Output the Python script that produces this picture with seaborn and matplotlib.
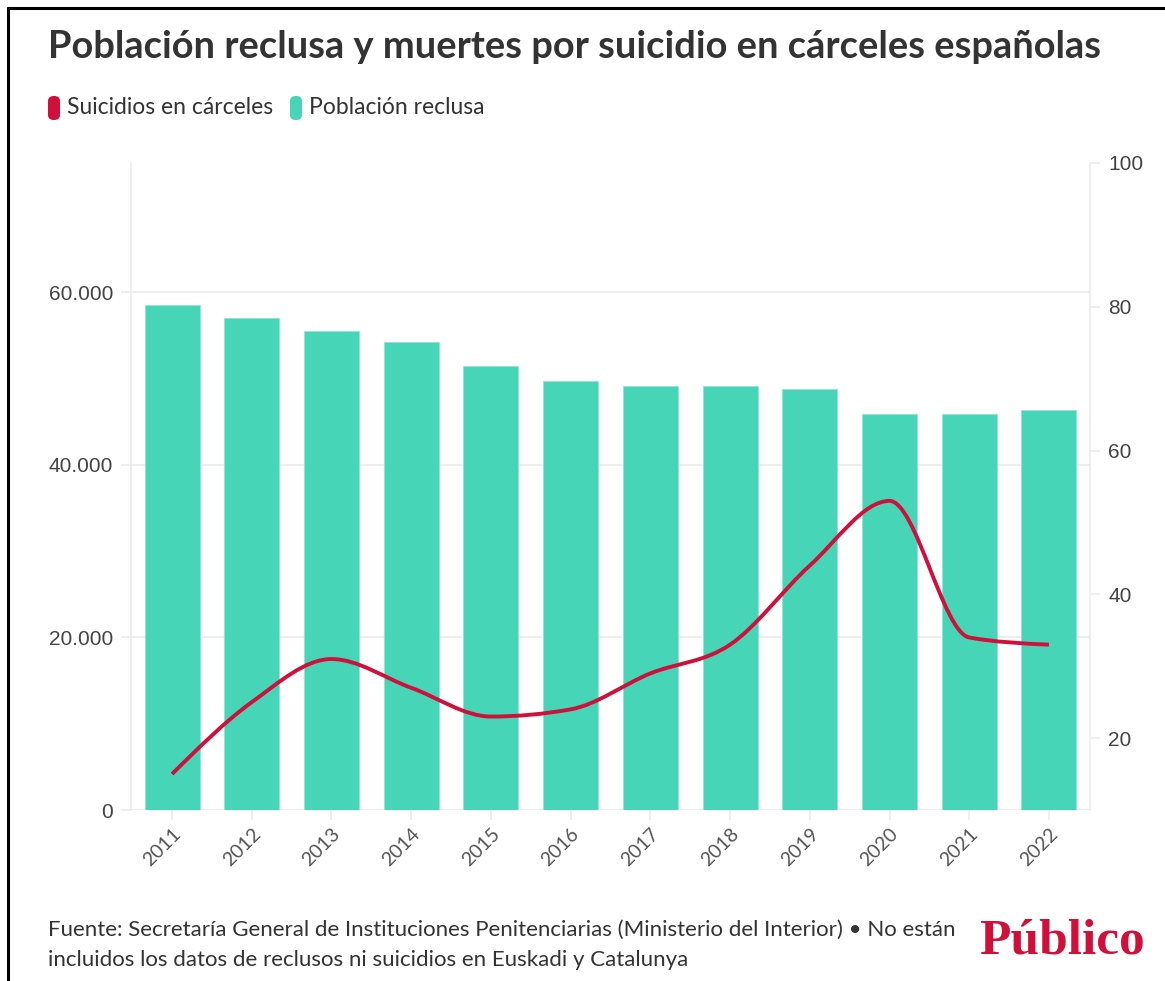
import numpy as np
import pandas as pd
import seaborn as sns
import matplotlib as mpl
from matplotlib import pyplot as plt
from matplotlib.path import Path
from matplotlib.patches import PathPatch, FancyBboxPatch
from matplotlib.lines import Line2D

years = ["2011", "2012", "2013", "2014", "2015", "2016",
         "2017", "2018", "2019", "2020", "2021", "2022"]
poblacion = [58500, 57000, 55500, 54200, 51450, 49700,
             49150, 49150, 48800, 45900, 45900, 46400]
suicidios = [15, 25, 31, 27, 23, 24, 29, 33, 44, 53, 34, 33]

left_ticks = [0, 20000, 40000, 60000]
right_ticks = [20, 40, 60, 80, 100]

TEAL = "#46D5B7"
RED = "#D0103A"
GRID = "#EBEBEB"
TXT = "#333333"


def monotone_path(xs, ys):
    # d3 curveMonotoneX as cubic bezier segments
    xs = np.asarray(xs, float)
    ys = np.asarray(ys, float)
    n = len(xs)
    h = np.diff(xs)
    s = np.diff(ys) / h
    t = np.zeros(n)
    for i in range(1, n - 1):
        p = (s[i - 1] * h[i] + s[i] * h[i - 1]) / (h[i - 1] + h[i])
        t[i] = (np.sign(s[i - 1]) + np.sign(s[i])) * min(
            abs(s[i - 1]), abs(s[i]), 0.5 * abs(p))
    t[0] = (3 * s[0] - t[1]) / 2
    t[-1] = (3 * s[-1] - t[-2]) / 2
    verts = [(xs[0], ys[0])]
    codes = [Path.MOVETO]
    for i in range(n - 1):
        dx = h[i] / 3
        verts += [(xs[i] + dx, ys[i] + dx * t[i]),
                  (xs[i + 1] - dx, ys[i + 1] - dx * t[i + 1]),
                  (xs[i + 1], ys[i + 1])]
        codes += [Path.CURVE4] * 3
    return Path(verts, codes)


df = pd.DataFrame({"year": years, "poblacion": poblacion, "suicidios": suicidios})

sns.set_theme(style="white")
plt.rcParams["font.family"] = ["Lato", "DejaVu Sans"]

fig = plt.figure(figsize=(11.65, 9.81), dpi=100)
ax = fig.add_axes([131 / 1165, 1 - 810 / 981, (1090 - 131) / 1165, (810 - 163) / 981])

sns.barplot(data=df, x="year", y="poblacion", color=TEAL, saturation=1,
            width=0.69, edgecolor="#8FE6D3", linewidth=0.6, ax=ax, zorder=2)
ax.set_xlim(-0.515, len(years) - 0.485)
ax.set_ylim(0, 75000)
ax.set_yticks(left_ticks)
ax.set_yticklabels([f"{v:,.0f}".replace(",", ".") for v in left_ticks],
                   fontfamily="Liberation Sans", fontsize=15, color="#444444")
ax.set_xlabel("")
ax.set_ylabel("")
ax.grid(axis="y", color=GRID, linewidth=1.2, zorder=0)
ax.set_axisbelow(True)
for side in ["top", "right", "bottom"]:
    ax.spines[side].set_visible(False)
ax.spines["left"].set_color(GRID)
ax.spines["left"].set_linewidth(1.2)
ax.tick_params(axis="y", length=7, width=1.2, color=GRID, pad=6, left=True)
ax.tick_params(axis="x", length=7, width=1.2, color=GRID, bottom=True,
               labelsize=14, labelcolor="#555555", pad=4)
plt.setp(ax.get_xticklabels(), rotation=45, ha="right", rotation_mode="anchor")

ax2 = ax.twinx()
ax2.set_ylim(10, 100)
ax2.set_yticks(right_ticks)
ax2.set_yticklabels([str(v) for v in right_ticks], fontfamily="Liberation Sans",
                    fontsize=15, color="#444444")
for side in ["top", "left", "bottom"]:
    ax2.spines[side].set_visible(False)
ax2.spines["right"].set_color(GRID)
ax2.spines["right"].set_linewidth(1.2)
ax2.tick_params(axis="y", length=7, width=1.2, color=GRID, pad=6, right=True)
ax2.grid(False)
ax2.add_patch(PathPatch(monotone_path(range(len(years)), suicidios),
                        facecolor="none", edgecolor=RED, linewidth=2.8,
                        capstyle="butt", joinstyle="round", zorder=3))

# title
fig.text(48 / 1165, 1 - 47 / 981, "Población reclusa y muertes por suicidio en cárceles españolas",
         fontsize=27.4, fontweight="bold", color="#333333", va="center", ha="left")

# legend
for x0, col, label in [(48, RED, "Suicidios en cárceles"), (290, TEAL, "Población reclusa")]:
    fig.patches.append(FancyBboxPatch(
        (x0 / 1165, 1 - 120 / 981), 12 / 1165, 24 / 981,
        boxstyle="round,pad=0,rounding_size=0.005", transform=fig.transFigure,
        facecolor=col, edgecolor="none"))
    fig.text((x0 + 19) / 1165, 1 - 108 / 981, label, fontsize=16.5,
             color=TXT, va="center", ha="left")

# footer
fig.text(48 / 1165, 1 - 930 / 981,
         "Fuente: Secretaría General de Instituciones Penitenciarias (Ministerio del Interior) • No están",
         fontsize=16, color=TXT, va="center", ha="left")
fig.text(48 / 1165, 1 - 960 / 981,
         "incluidos los datos de reclusos ni suicidios en Euskadi y Catalunya",
         fontsize=16, color=TXT, va="center", ha="left")
fig.text(1145 / 1165, 1 - 941 / 981, "Público", fontfamily="Liberation Serif",
         fontsize=37, fontweight="bold", color=RED, va="center", ha="right")

# frame (top and left)
fig.add_artist(Line2D([8 / 1165, 8 / 1165], [0, 1 - 8 / 981], color="black",
                      linewidth=2.2, transform=fig.transFigure))
fig.add_artist(Line2D([8 / 1165, 1], [1 - 8 / 981, 1 - 8 / 981], color="black",
                      linewidth=2.2, transform=fig.transFigure))

fig.savefig("out.png", dpi=100, facecolor="white")
